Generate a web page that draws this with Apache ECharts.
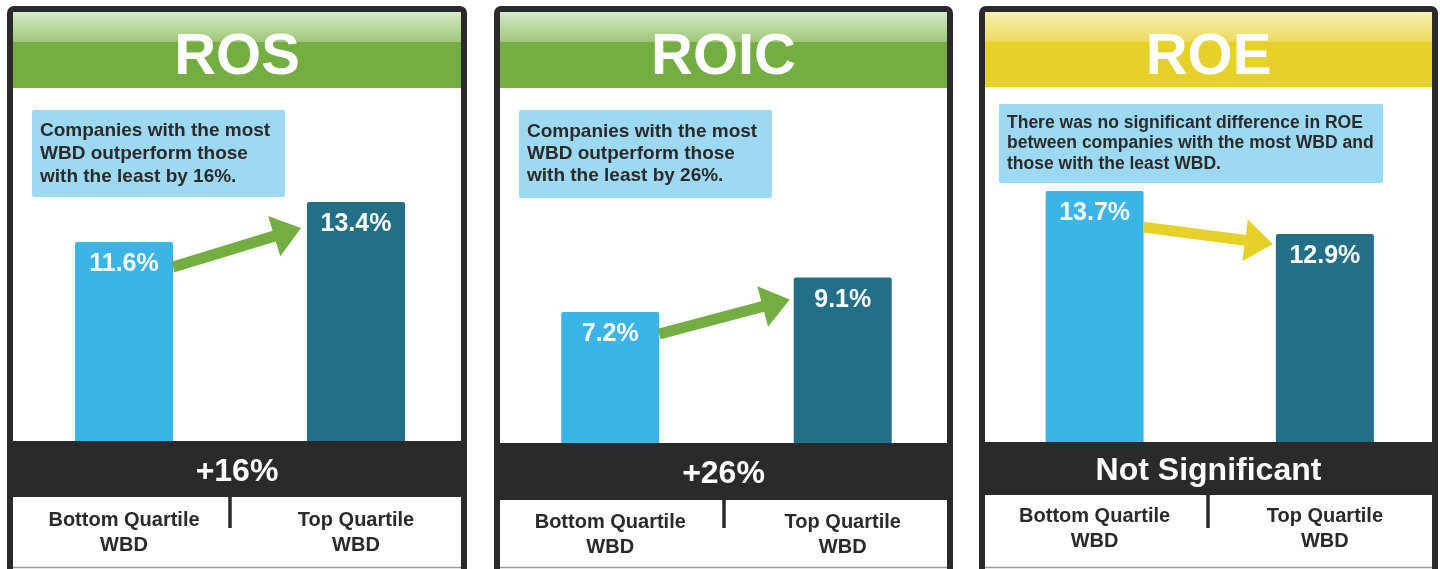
<!DOCTYPE html>
<html>
<head>
<meta charset="utf-8">
<script src="https://cdn.jsdelivr.net/npm/echarts@6/dist/echarts.min.js"></script>
<style>
  html, body { margin: 0; padding: 0; background: #fff; }
  #chart { width: 1440px; height: 569px; }
</style>
</head>
<body>
<div id="chart"></div>
<script>
// data
const panelTitles = ['ROS', 'ROIC', 'ROE']
const categories = ['Bottom Quartile\nWBD', 'Top Quartile\nWBD']
const bottomQuartile = [11.6, 7.2, 13.7]
const topQuartile = [13.4, 9.1, 12.9]
const differenceLabels = ['+16%', '+26%', 'Not Significant']
const calloutTexts = [
  'Companies with the most\nWBD outperform those\nwith the least by 16%.',
  'Companies with the most\nWBD outperform those\nwith the least by 26%.',
  'There was no significant difference in ROE\nbetween companies with the most WBD and\nthose with the least WBD.'
]

const DARK = '#2b2a2b'
const FONT = '"Liberation Sans", Arial, sans-serif'

// layout of the three panels (pixels)
const panels = [
  { x0: 7, x1: 467, headBottom: 88, bandTop: 441, bandBottom: 497, divX: 230,
    gridLeft: 8, gridWidth: 464, yMin: 2.65, yMax: 18.48, labelMargin: 67,
    box: [32, 110, 253, 87], boxFont: 19, boxLine: 23,
    head: 'green', arrow: '#74ad42', arrowDy: [25, 26], arrowGap: 6 },
  { x0: 494, x1: 953, headBottom: 88, bandTop: 443, bandBottom: 500, divX: 724,
    gridLeft: 494, gridWidth: 465, yMin: 0, yMax: 19.45, labelMargin: 67,
    box: [519, 110, 253, 88], boxFont: 19, boxLine: 22,
    head: 'green', arrow: '#74ad42', arrowDy: [22, 22], arrowGap: 4 },
  { x0: 979, x1: 1438, headBottom: 87, bandTop: 442, bandBottom: 495, divX: 1208,
    gridLeft: 979.5, gridWidth: 464, yMin: 9.03, yMax: 15.6, labelMargin: 62,
    box: [999, 104, 384, 79], boxFont: 17.5, boxLine: 20.5,
    head: 'yellow', arrow: '#e6d02a', arrowDy: [36, 10], arrowGap: 3 }
]

const headFill = {
  green: ['#d6e9c6', '#9ec77a', '#74ad42'],
  yellow: ['#f7f0b5', '#ecdb5e', '#e6d02a']
}

const BAR_W = 98

function panelGraphics(p, i) {
  const ix0 = p.x0 + 6
  const ix1 = p.x1 - 6
  const iw = ix1 - ix0
  const cx = (ix0 + ix1) / 2
  const hc = headFill[p.head]
  return [
    { type: 'rect', z: -1, shape: { x: p.x0, y: 6, width: p.x1 - p.x0, height: 600, r: 7 }, style: { fill: DARK } },
    { type: 'rect', z: -1, shape: { x: ix0, y: 12, width: iw, height: p.headBottom - 12 },
      style: { fill: new echarts.graphic.LinearGradient(0, 0, 0, 1, [
        { offset: 0, color: hc[0] }, { offset: 0.39, color: hc[1] },
        { offset: 0.4, color: hc[2] }, { offset: 1, color: hc[2] }]) } },
    { type: 'rect', z: -1, shape: { x: ix0, y: p.headBottom, width: iw, height: p.bandTop - p.headBottom }, style: { fill: '#fff' } },
    { type: 'rect', z: -1, shape: { x: ix0, y: p.bandBottom, width: iw, height: 569 - p.bandBottom }, style: { fill: '#fff' } },
    { type: 'line', z: -1, shape: { x1: ix0, y1: 567.5, x2: ix1, y2: 567.5 }, style: { stroke: '#9a9a9a', lineWidth: 1.5 } },
    { type: 'line', z: 5, shape: { x1: p.divX, y1: p.bandBottom, x2: p.divX, y2: 528 }, style: { stroke: DARK, lineWidth: 3.5 } },
    { type: 'text', z: 10, x: cx, y: (12 + p.headBottom) / 2 + 8,
      style: { text: panelTitles[i], fill: '#fff', font: 'bold 58px ' + FONT, align: 'center', verticalAlign: 'middle' } },
    { type: 'text', z: 10, x: cx, y: (p.bandTop + p.bandBottom) / 2 + 3,
      style: { text: differenceLabels[i], fill: '#fff', font: 'bold 32px ' + FONT, align: 'center', verticalAlign: 'middle' } },
    { type: 'rect', z: 5, shape: { x: p.box[0], y: p.box[1], width: p.box[2], height: p.box[3], r: 2 }, style: { fill: '#9dd9f2' } },
    { type: 'text', z: 10, x: p.box[0] + 8, y: p.box[1] + p.box[3] / 2,
      style: { text: calloutTexts[i], fill: DARK, font: 'bold ' + p.boxFont + 'px ' + FONT,
        lineHeight: p.boxLine, align: 'left', verticalAlign: 'middle' } }
  ]
}

function arrowItem(p) {
  return function (params, api) {
    const a = api.coord([0, api.value(1)])
    const b = api.coord([1, api.value(2)])
    const s = [a[0] + BAR_W / 2, a[1] + p.arrowDy[0]]
    const t = [b[0] - BAR_W / 2 - p.arrowGap, b[1] + p.arrowDy[1]]
    const dx = t[0] - s[0], dy = t[1] - s[1]
    const len = Math.sqrt(dx * dx + dy * dy)
    const u = [dx / len, dy / len]
    const n = [-u[1], u[0]]
    const headLen = 28, headHalf = 21, shaft = 5.5
    const base = [t[0] - u[0] * headLen, t[1] - u[1] * headLen]
    const pt = (o, k) => [o[0] + n[0] * k, o[1] + n[1] * k]
    return {
      type: 'polygon',
      shape: { points: [pt(s, shaft), pt(base, shaft), pt(base, headHalf), t, pt(base, -headHalf), pt(base, -shaft), pt(s, -shaft)] },
      style: { fill: p.arrow }
    }
  }
}

const chart = echarts.init(document.getElementById('chart'))

chart.setOption({
  backgroundColor: '#fff',
  animation: false,
  graphic: panels.map(panelGraphics).flat(),
  grid: panels.map(p => ({
    left: p.gridLeft, width: p.gridWidth, top: 89, height: p.bandTop - 89
  })),
  xAxis: panels.map((p, i) => ({
    type: 'category', gridIndex: i, data: categories,
    axisLine: { show: false }, axisTick: { show: false },
    axisLabel: { interval: 0, margin: p.labelMargin, color: DARK, fontFamily: FONT,
      fontWeight: 'bold', fontSize: 20, lineHeight: 25 }
  })),
  yAxis: panels.map((p, i) => ({
    type: 'value', gridIndex: i, min: p.yMin, max: p.yMax, show: false
  })),
  series: panels.map((p, i) => ({
    type: 'bar', xAxisIndex: i, yAxisIndex: i, barWidth: BAR_W,
    data: [
      { value: bottomQuartile[i], itemStyle: { color: '#3bb4e7' } },
      { value: topQuartile[i], itemStyle: { color: '#236f87' } }
    ],
    itemStyle: { borderRadius: [2, 2, 0, 0] },
    label: { show: true, position: 'insideTop', distance: 10, color: '#fff',
      fontFamily: FONT, fontWeight: 'bold', fontSize: 25, formatter: '{c}%' }
  })).concat(panels.map((p, i) => ({
    type: 'custom', xAxisIndex: i, yAxisIndex: i, z: 4, clip: false,
    encode: { x: 0, y: 1 },
    data: [[0, bottomQuartile[i], topQuartile[i]]],
    renderItem: arrowItem(p)
  })))
})
</script>
</body>
</html>
